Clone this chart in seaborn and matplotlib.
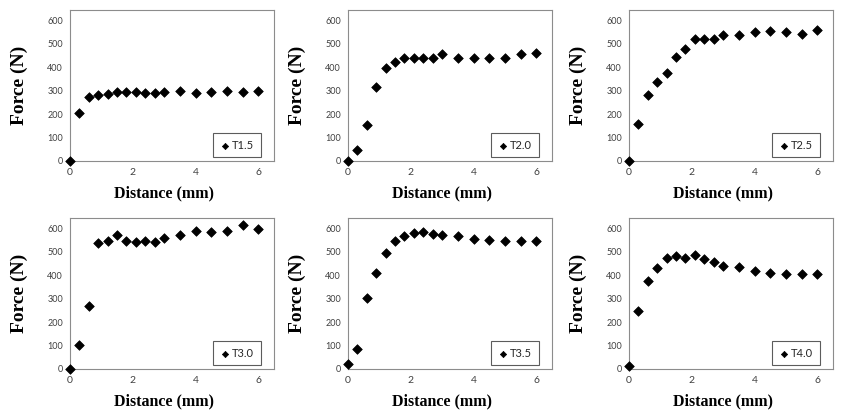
import numpy as np
import pandas as pd
import seaborn as sns
import matplotlib.pyplot as plt

# --- data ---
distance = [0, 0.3, 0.6, 0.9, 1.2, 1.5, 1.8, 2.1, 2.4, 2.7, 3.0, 3.5, 4.0, 4.5, 5.0, 5.5, 6.0]

force_t15 = [0, 205, 273, 282, 285, 294, 294, 294, 290, 290, 294, 301, 290, 294, 299, 294, 299]
force_t20 = [0, 45, 152, 318, 398, 424, 438, 438, 441, 441, 455, 438, 441, 438, 441, 455, 462]
force_t25 = [0, 159, 280, 337, 378, 446, 479, 519, 519, 519, 540, 540, 549, 557, 549, 543, 560]
force_t30 = [0, 101, 269, 537, 545, 571, 545, 541, 545, 541, 558, 571, 588, 584, 588, 616, 597]
force_t35 = [22, 86, 302, 410, 496, 548, 570, 583, 587, 578, 574, 570, 557, 553, 548, 548, 548]
force_t40 = [12, 247, 377, 433, 476, 481, 476, 489, 468, 455, 442, 437, 420, 412, 407, 407, 407]

labels = ["T1.5", "T2.0", "T2.5", "T3.0", "T3.5", "T4.0"]
series = [force_t15, force_t20, force_t25, force_t30, force_t35, force_t40]

x_ticks = [0, 2, 4, 6]
y_ticks = [0, 100, 200, 300, 400, 500, 600]

sns.set_style("white")
plt.rcParams['font.family'] = ['Lato', 'DejaVu Sans']

W, H = 848, 420
fig = plt.figure(figsize=(W / 100, H / 100), dpi=100)

col_left = [70, 348, 629]
row_top = [10, 218]
ax_w, ax_h = 204, 151
gray = "#8c8c8c"

for i, (lab, f) in enumerate(zip(labels, series)):
    r, c = divmod(i, 3)
    left = col_left[c]
    top = row_top[r]
    ax = fig.add_axes([left / W, 1 - (top + ax_h) / H, ax_w / W, ax_h / H])
    df = pd.DataFrame({"Distance": distance, "Force": f})
    sns.scatterplot(data=df, x="Distance", y="Force", ax=ax, marker="D",
                    color="black", s=24, edgecolor="black", linewidth=0.5,
                    label=lab, clip_on=False, zorder=3)
    ax.set_xlim(0, 6.5)
    ax.set_ylim(0, 645)
    ax.set_xticks(x_ticks)
    ax.set_yticks(y_ticks)
    ax.tick_params(axis="both", labelsize=6.5, colors="#404040", length=3,
                   width=0.6, direction="out", pad=2)
    ax.tick_params(axis="both", color=gray)
    ax.tick_params(axis="x", labelsize=7.5)
    for sp in ax.spines.values():
        sp.set_color(gray)
        sp.set_linewidth(0.8)
    ax.set_xlabel("Distance (mm)", family="Liberation Serif", fontweight="bold",
                  fontsize=11.5, color="black")
    ax.set_ylabel("Force (N)", family="Liberation Serif", fontweight="bold",
                  fontsize=14, color="black")
    ax.xaxis.set_label_coords(0.46, -0.16)
    ax.yaxis.set_label_coords(-0.205, 0.5)
    leg = ax.legend(loc="lower right", bbox_to_anchor=(0.935, 0.025),
                    borderaxespad=0, fancybox=False, frameon=True,
                    prop={"family": "Lato", "size": 8}, handletextpad=0.1,
                    handlelength=1.0, borderpad=0.6, markerscale=0.65)
    leg.get_frame().set_edgecolor("#333333")
    leg.get_frame().set_linewidth(0.8)

fig.savefig("out.png", dpi=100)
